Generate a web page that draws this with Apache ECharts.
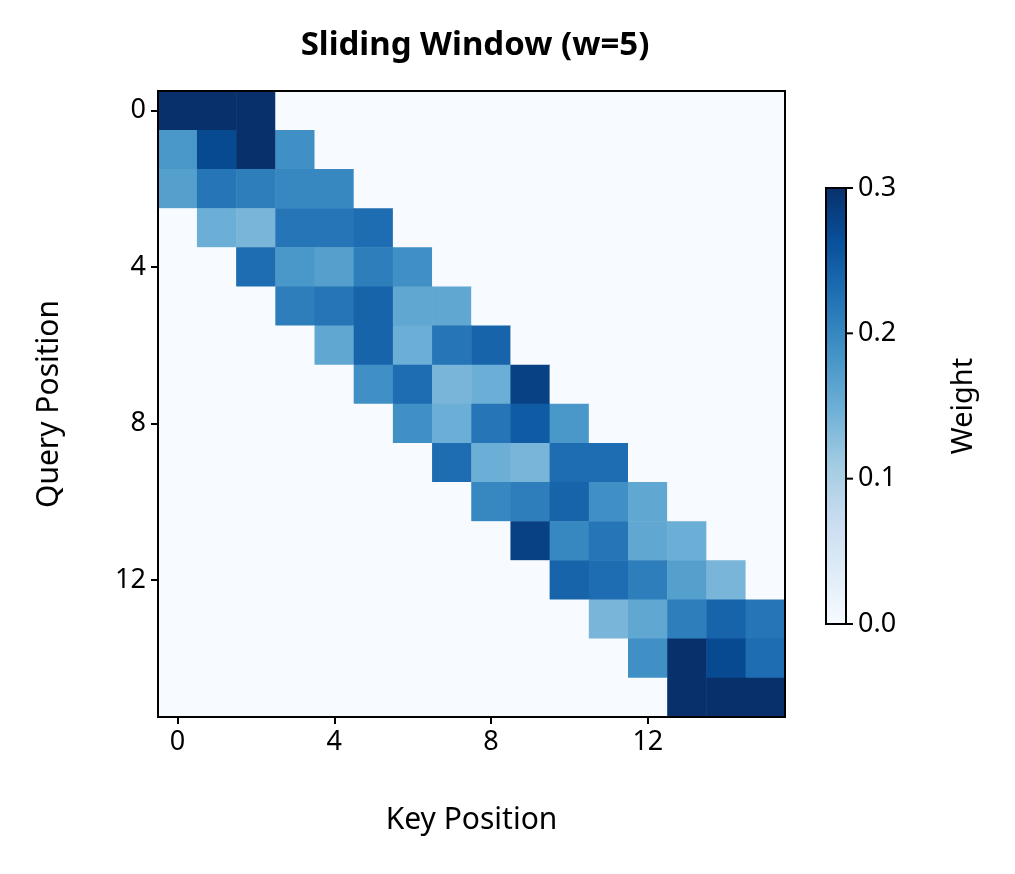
<!DOCTYPE html>
<html>
<head>
<meta charset="utf-8">
<script src="https://cdn.jsdelivr.net/npm/echarts@6/dist/echarts.min.js"></script>
<style>html,body{margin:0;background:#fff}#c{width:1015px;height:874px}</style>
</head>
<body>
<div id="c"></div>
<script>
const positions = Array.from({length: 16}, (_, i) => String(i));
// non-zero weights per query row: [firstKey, values...]
const rowStart = [0, 0, 0, 1, 2, 3, 4, 5, 6, 7, 8, 9, 10, 11, 12, 13];
const rowWeights = [
  [0.33, 0.33, 0.33],
  [0.18, 0.27, 0.32, 0.19],
  [0.17, 0.22, 0.21, 0.20, 0.20],
  [0.15, 0.14, 0.22, 0.22, 0.23],
  [0.23, 0.18, 0.17, 0.21, 0.19],
  [0.21, 0.22, 0.24, 0.16, 0.16],
  [0.16, 0.24, 0.15, 0.22, 0.24],
  [0.19, 0.23, 0.14, 0.15, 0.28],
  [0.19, 0.15, 0.22, 0.25, 0.18],
  [0.23, 0.15, 0.14, 0.23, 0.23],
  [0.20, 0.21, 0.24, 0.19, 0.16],
  [0.28, 0.20, 0.22, 0.16, 0.15],
  [0.24, 0.23, 0.21, 0.17, 0.14],
  [0.14, 0.16, 0.21, 0.24, 0.22],
  [0.19, 0.31, 0.27, 0.23],
  [0.33, 0.33, 0.31]
];
const cbTicks = [0.0, 0.1, 0.2, 0.3];

const data = [];
for (let q = 0; q < 16; q++) {
  for (let k = 0; k < 16; k++) {
    const j = k - rowStart[q];
    const v = (j >= 0 && j < rowWeights[q].length) ? rowWeights[q][j] : 0;
    data.push([k, q, v]);
  }
}

const font = '"Noto Sans", sans-serif';
const cb = {x: 826, y: 188, w: 20, h: 436};
const graphics = [
  {type: 'rect', shape: {x: cb.x, y: cb.y, width: cb.w, height: cb.h},
   style: {fill: 'none', stroke: '#000', lineWidth: 2}, z: 100},
  {type: 'text', x: 964, y: 406, rotation: Math.PI / 2, style: {text: 'Weight', font: '29px ' + font, fill: '#000', align: 'center', verticalAlign: 'middle'}}
];
cbTicks.forEach(t => {
  const y = cb.y + cb.h * (1 - t / 0.3);
  graphics.push({type: 'line', shape: {x1: cb.x + cb.w, y1: y, x2: cb.x + cb.w + 7, y2: y}, style: {stroke: '#000', lineWidth: 2}});
  graphics.push({type: 'text', x: cb.x + cb.w + 12, y: y, style: {text: t.toFixed(1), font: '27px ' + font, fill: '#000', verticalAlign: 'middle'}});
});

const chart = echarts.init(document.getElementById('c'));
chart.setOption({
  animation: false,
  title: {text: 'Sliding Window (w=5)', left: 470, top: 24, textAlign: 'center',
    textStyle: {fontFamily: font, fontSize: 33, fontWeight: 'bold', color: '#000'}},
  grid: {left: 158, top: 91, width: 627, height: 626, show: true, borderColor: '#000', borderWidth: 2, z: 10},
  xAxis: {
    type: 'category', data: positions, name: 'Key Position', nameLocation: 'middle', nameGap: 88,
    nameTextStyle: {fontFamily: font, fontSize: 30, color: '#000'},
    axisLine: {show: false},
    axisTick: {show: true, alignWithLabel: true, interval: 3, length: 7, lineStyle: {color: '#000', width: 2}},
    axisLabel: {interval: 3, fontFamily: font, fontSize: 27, color: '#000', margin: 12},
    splitLine: {show: false}
  },
  yAxis: {
    type: 'category', data: positions, inverse: true, name: 'Query Position', nameLocation: 'middle', nameGap: 94,
    nameTextStyle: {fontFamily: font, fontSize: 30, color: '#000'},
    axisLine: {show: false},
    axisTick: {show: true, alignWithLabel: true, interval: 3, length: 7, lineStyle: {color: '#000', width: 2}},
    axisLabel: {interval: 3, fontFamily: font, fontSize: 27, color: '#000', margin: 12},
    splitLine: {show: false}
  },
  visualMap: {
    type: 'continuous', min: 0, max: 0.3, calculable: false, orient: 'vertical', padding: 0,
    left: cb.x, top: cb.y, itemWidth: cb.w, itemHeight: cb.h, text: null, showLabel: false,
    inRange: {color: ['#f7fbff', '#deebf7', '#c6dbef', '#9ecae1', '#6baed6', '#4292c6', '#2171b5', '#08519c', '#08306b']}
  },
  graphic: graphics,
  series: [{type: 'heatmap', data: data, itemStyle: {borderWidth: 0}, emphasis: {disabled: true}}]
});
</script>
</body>
</html>
